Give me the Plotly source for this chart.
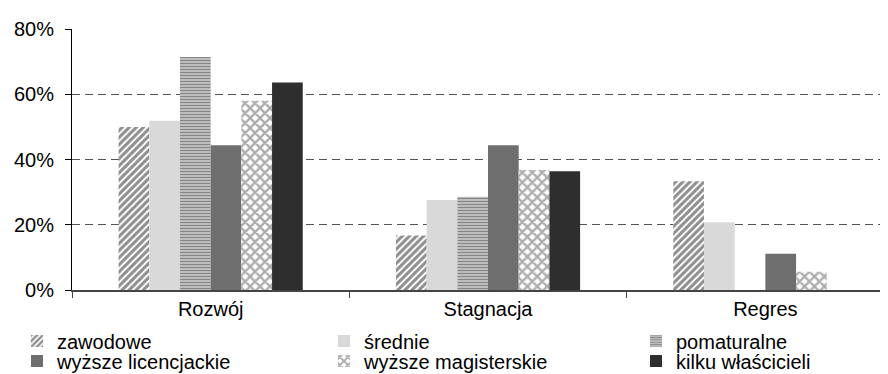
import plotly.graph_objects as go

categories = ["Rozwój", "Stagnacja", "Regres"]
series_names = ["zawodowe", "średnie", "pomaturalne", "wyższe licencjackie", "wyższe magisterskie", "kilku właścicieli"]
zawodowe = [50.0, 16.7, 33.3]
srednie = [51.9, 27.6, 20.8]
pomaturalne = [71.4, 28.6, 0.0]
licencjackie = [44.4, 44.4, 11.1]
magisterskie = [58.0, 36.8, 5.6]
kilku = [63.6, 36.4, 0.0]
y_ticks = [0, 20, 40, 60, 80]

values = [zawodowe, srednie, pomaturalne, licencjackie, magisterskie, kilku]
styles = [
    dict(color="white", pattern=dict(shape="/", fgcolor="#1e1e1e", bgcolor="white", size=5, solidity=0.6)),
    dict(color="#d9d9d9"),
    dict(color="#bdbdbd", pattern=dict(shape="-", fgcolor="#3c3c3c", bgcolor="#cfcfcf", size=3, solidity=0.5)),
    dict(color="#6e6e6e"),
    dict(color="white", pattern=dict(shape="x", fgcolor="#5a5a5a", bgcolor="white", size=7, solidity=0.55)),
    dict(color="#2e2e2e"),
]

W, H = 888, 374
# legend slot layout (container pixels): column x of legend box, row centre y
col_x = [9, 316, 628]
row_y = [333, 353]

fig = go.Figure()
legend_layouts = {}
for i, (name, vals, st) in enumerate(zip(series_names, values, styles)):
    key = "legend" if i == 0 else f"legend{i+1}"
    fig.add_trace(go.Bar(x=categories, y=vals, name=name, legend=key,
                         marker=dict(line=dict(width=0), **st)))
    r, c = divmod(i, 3)
    legend_layouts[key] = dict(
        xref="container", yref="container",
        x=col_x[c] / W, xanchor="left",
        y=1 - row_y[r] / H, yanchor="middle",
        font=dict(size=20, color="black"),
        bgcolor="rgba(0,0,0,0)", borderwidth=0, itemwidth=30,
    )

fig.update_layout(
    width=W, height=H,
    margin=dict(l=64, r=0, t=21, b=92, autoexpand=False),
    paper_bgcolor="white", plot_bgcolor="white",
    font=dict(family="Liberation Sans, Arial, sans-serif", size=20, color="black"),
    barmode="group", bargap=0.336, bargroupgap=0,
    showlegend=True,
    **legend_layouts,
)
fig.update_yaxes(range=[0, 80], tickvals=y_ticks, ticktext=[f"{v}%" for v in y_ticks],
                 showgrid=True, gridcolor="#555555", griddash="8px,5px", gridwidth=1,
                 showline=True, linecolor="black", linewidth=1,
                 ticks="outside", ticklen=6, tickcolor="black", zeroline=False,
                 ticklabelstandoff=7, tickfont=dict(size=20), automargin=False)
fig.update_xaxes(range=[-0.5, 2.471], showline=True, linecolor="#444444", linewidth=2,
                 ticks="outside", tickson="boundaries", ticklen=6, tickcolor="#444444",
                 showgrid=False, tickfont=dict(size=20), tickangle=0, automargin=False)

fig.write_html("out.html")
